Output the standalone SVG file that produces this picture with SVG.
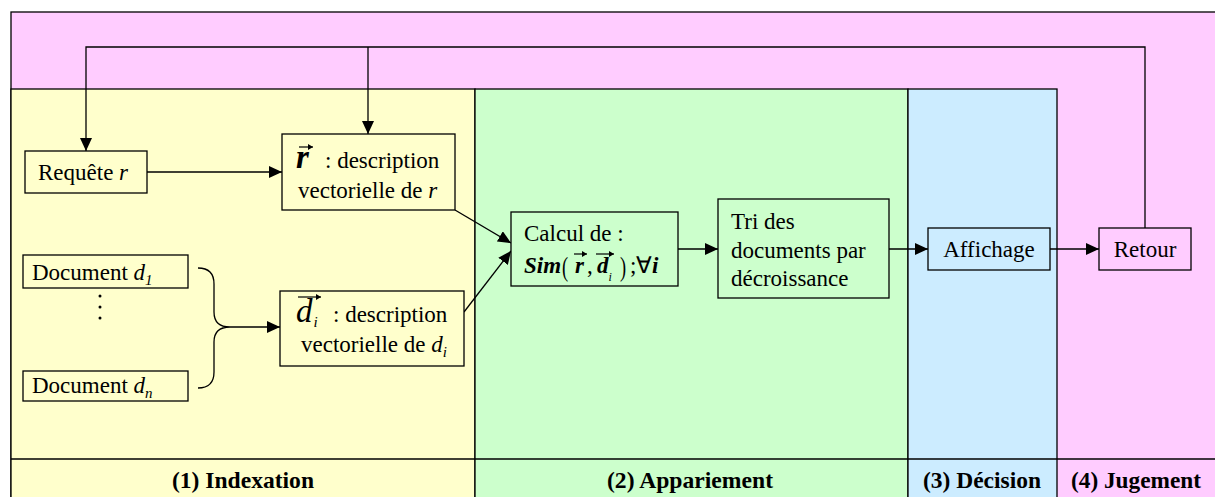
<svg xmlns="http://www.w3.org/2000/svg" width="1215" height="497" viewBox="0 0 1215 497">
  <style>
    .lane { stroke: #000; stroke-width: 1.3; }
    .box { stroke: #000; stroke-width: 1.3; }
    text { font-family: "Liberation Serif", "Times New Roman", serif; fill: #000; }
    .t { font-size: 23px; }
    .it { font-style: italic; }
    .bi { font-style: italic; font-weight: bold; }
    .big { font-size: 33px; font-style: italic; }
    .sub { font-size: 15px; font-style: italic; }
    .mid { text-anchor: middle; }
    .lbl { font-size: 23px; font-weight: bold; text-anchor: middle; }
    .wire { fill: none; stroke: #000; stroke-width: 1.3; }
    .vec { fill: none; stroke: #000; stroke-width: 1.2; }
  </style>
  <defs>
    <marker id="arrow" markerUnits="userSpaceOnUse" markerWidth="14" markerHeight="12" refX="13" refY="6" orient="auto">
      <path d="M0,0 L13,6 L0,12 z" fill="#000"/>
    </marker>
    <marker id="tip" markerUnits="userSpaceOnUse" markerWidth="6" markerHeight="6" refX="5" refY="3" orient="auto">
      <path d="M0,0 L5,3 L0,6 z" fill="#000"/>
    </marker>
  </defs>

  <!-- swim lanes -->
  <g id="lanes">
    <rect x="11" y="12" width="1210" height="490" fill="#FFCCFF" class="lane"/>
    <rect x="11" y="89" width="464" height="410" fill="#FFFFCC" class="lane"/>
    <rect x="475" y="89" width="433" height="410" fill="#CCFFCC" class="lane"/>
    <rect x="908" y="89" width="149" height="410" fill="#CCECFF" class="lane"/>
    <line x1="11" y1="459" x2="1215" y2="459" class="lane"/>
    <text class="lbl" x="243" y="488" textLength="142" lengthAdjust="spacingAndGlyphs">(1) Indexation</text>
    <text class="lbl" x="690" y="488" textLength="166" lengthAdjust="spacingAndGlyphs">(2) Appariement</text>
    <text class="lbl" x="982" y="488" textLength="118" lengthAdjust="spacingAndGlyphs">(3) Décision</text>
    <text class="lbl" x="1136" y="488" textLength="130" lengthAdjust="spacingAndGlyphs">(4) Jugement</text>
  </g>

  <!-- connectors -->
  <g id="connectors">
    <path class="wire" d="M1145,228 V47 H86 V151" marker-end="url(#arrow)"/>
    <path class="wire" d="M368,47 V134" marker-end="url(#arrow)"/>
    <path class="wire" d="M147,172 H282" marker-end="url(#arrow)"/>
    <path class="wire" d="M455,210 L511,243" marker-end="url(#arrow)"/>
    <path class="wire" d="M464,312 L511,251" marker-end="url(#arrow)"/>
    <path class="wire" d="M198,268 Q214,268 214,284 L214,312 Q214,327 230,327 Q214,327 214,342 L214,372 Q214,388 198,388"/>
    <path class="wire" d="M230,327 H280" marker-end="url(#arrow)"/>
    <path class="wire" d="M678,249 H718" marker-end="url(#arrow)"/>
    <path class="wire" d="M889,249 H928" marker-end="url(#arrow)"/>
    <path class="wire" d="M1050,249 H1099" marker-end="url(#arrow)"/>
  </g>

  <g id="requete">
    <rect x="25" y="151" width="122" height="42" fill="#FFFFCC" class="box"/>
    <text class="t" x="38" y="180">Requête <tspan class="it">r</tspan></text>
  </g>

  <g id="vec-r">
    <rect x="282" y="134" width="173" height="76" fill="#FFFFCC" class="box"/>
    <text class="big" x="296" y="168" font-weight="bold">r</text>
    <path class="vec" d="M299,147 H313" marker-end="url(#tip)"/>
    <text class="t" x="325" y="168">: description</text>
    <text class="t" x="298" y="198">vectorielle de <tspan class="it">r</tspan></text>
  </g>

  <g id="doc-1">
    <rect x="23" y="255" width="165" height="33" fill="#FFFFCC" class="box"/>
    <text class="t" x="32" y="280">Document <tspan class="it">d</tspan><tspan class="sub" dy="5">1</tspan></text>
  </g>

  <g id="ellipsis">
    <circle cx="100" cy="296" r="1.5" fill="#000"/>
    <circle cx="100" cy="307" r="1.5" fill="#000"/>
    <circle cx="100" cy="318" r="1.5" fill="#000"/>
  </g>

  <g id="doc-n">
    <rect x="23" y="371" width="165" height="30" fill="#FFFFCC" class="box"/>
    <text class="t" x="32" y="393">Document <tspan class="it">d</tspan><tspan class="sub" dy="5">n</tspan></text>
  </g>

  <g id="vec-d">
    <rect x="280" y="291" width="184" height="75" fill="#FFFFCC" class="box"/>
    <text class="big" x="296" y="322">d<tspan class="sub" dx="1" dy="5">i</tspan></text>
    <path class="vec" d="M298,297 H321" marker-end="url(#tip)"/>
    <text class="t" x="333" y="322">: description</text>
    <text class="t" x="301" y="352">vectorielle de <tspan class="it">d</tspan><tspan class="sub" dy="5">i</tspan></text>
  </g>

  <g id="calcul">
    <rect x="511" y="212" width="167" height="74" fill="#CCFFCC" class="box"/>
    <text class="t" x="524" y="241">Calcul de :</text>
    <text class="t bi" x="524" y="273">Sim</text>
    <text class="t" x="562" y="276" transform="translate(562 276) scale(0.8 1.2) translate(-562 -276)">(</text>
    <text class="t bi" x="575" y="273">r</text>
    <path class="vec" d="M574,254 H587" marker-end="url(#tip)"/>
    <text class="t" x="587" y="273">,</text>
    <text class="t bi" x="597" y="273">d<tspan class="it" font-size="12" font-weight="normal" dy="8">i</tspan></text>
    <path class="vec" d="M596,254 H614" marker-end="url(#tip)"/>
    <text class="t" x="620" y="276" transform="translate(620 276) scale(0.8 1.2) translate(-620 -276)">)</text>
    <text class="t" x="630" y="273">;∀</text>
    <text class="t bi" x="652" y="273">i</text>
  </g>

  <g id="tri">
    <rect x="718" y="199" width="171" height="99" fill="#CCFFCC" class="box"/>
    <text class="t" x="731" y="229">Tri des</text>
    <text class="t" x="731" y="258">documents par</text>
    <text class="t" x="731" y="286">décroissance</text>
  </g>

  <g id="affichage">
    <rect x="928" y="228" width="122" height="42" fill="#CCECFF" class="box"/>
    <text class="t mid" x="989" y="257">Affichage</text>
  </g>

  <g id="retour">
    <rect x="1099" y="228" width="92" height="42" fill="#FFCCFF" class="box"/>
    <text class="t mid" x="1145" y="257">Retour</text>
  </g>
</svg>
